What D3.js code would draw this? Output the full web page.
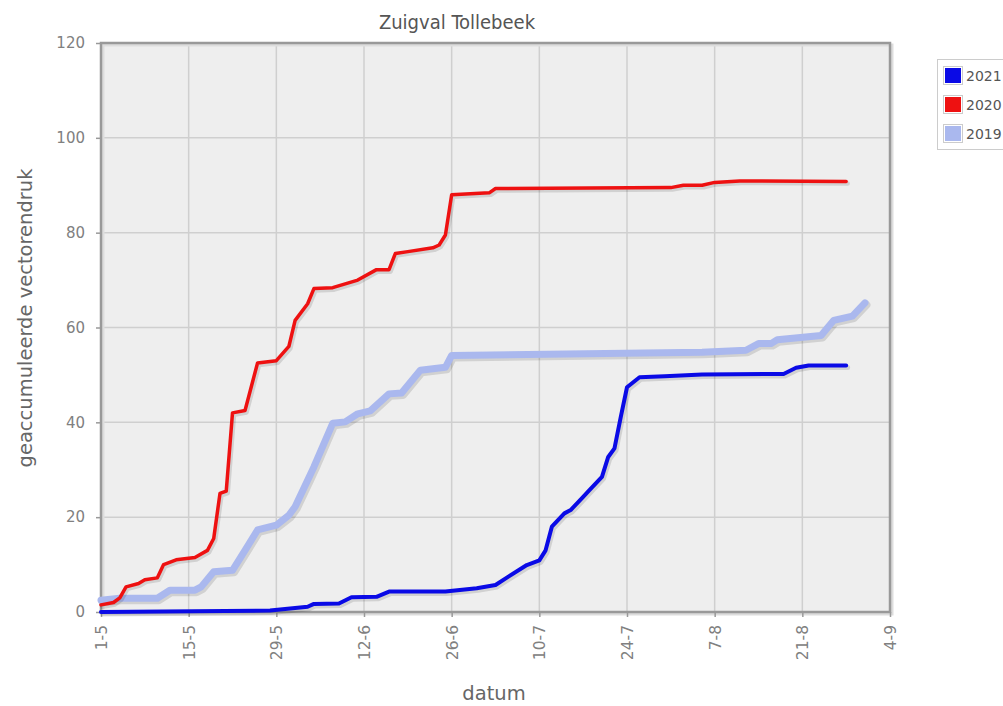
<!DOCTYPE html>
<html><head><meta charset="utf-8">
<script src="https://cdn.jsdelivr.net/npm/d3@7"></script>
<style>
body{margin:0;background:#fff;}
svg{display:block;}
</style></head>
<body>
<svg id="chart" width="1003" height="706"></svg>
<script>
const title = "Zuigval Tollebeek";
const yTitle = "geaccumuleerde vectorendruk";
const xTitle = "datum";
const xTickLabels = ["1-5","15-5","29-5","12-6","26-6","10-7","24-7","7-8","21-8","4-9"];
const yTicks = [0,20,40,60,80,100,120];
const seriesNames = ["2021","2020","2019"];
const seriesColors = ["#0a0ae6","#ee1111","#aab8ee"];

// [date (dd-mm), value]
const data2019 = [
 ["01-05",2.5],["04-05",2.9],["10-05",2.9],["12-05",4.6],["16-05",4.6],["17-05",5.3],
 ["19-05",8.5],["22-05",8.8],["24-05",13],["26-05",17.3],["29-05",18.3],["31-05",20.4],
 ["01-06",22.2],["03-06",27.8],["04-06",30.6],["07-06",39.8],["09-06",40.1],["11-06",41.8],
 ["13-06",42.4],["16-06",46],["18-06",46.2],["21-06",51],["25-06",51.6],["26-06",54.1],
 ["05-08",54.8],["12-08",55.2],["14-08",56.6],["16-08",56.6],["17-08",57.4],["24-08",58.3],
 ["26-08",61.5],["29-08",62.4],["31-08",65.2]
];
const data2020 = [
 ["01-05",1.5],["03-05",2],["04-05",3],["05-05",5.3],["07-05",6],["08-05",6.8],["10-05",7.2],
 ["11-05",10],["13-05",11],["16-05",11.5],["18-05",13],["19-05",15.5],["20-05",25],["21-05",25.5],
 ["22-05",42],["24-05",42.5],["26-05",52.5],["29-05",53],["31-05",56],["01-06",61.5],["03-06",65],
 ["04-06",68.2],["07-06",68.4],["11-06",70],["14-06",72.2],["16-06",72.2],["17-06",75.6],
 ["19-06",76],["23-06",76.8],["24-06",77.4],["25-06",79.5],["26-06",88],["02-07",88.4],
 ["03-07",89.3],["31-07",89.5],["02-08",90],["05-08",90],["07-08",90.6],["11-08",90.9],["28-08",90.8]
];
const data2021 = [
 ["01-05",0],["28-05",0.3],["03-06",1.1],["04-06",1.7],["08-06",1.8],["10-06",3.1],
 ["14-06",3.2],["16-06",4.3],["25-06",4.3],["30-06",5],["03-07",5.7],["05-07",7.4],
 ["08-07",9.9],["10-07",10.9],["11-07",13],["12-07",18],["14-07",20.8],["15-07",21.5],
 ["17-07",24.3],["18-07",25.7],["20-07",28.5],["21-07",32.7],["22-07",34.5],["23-07",41.1],
 ["24-07",47.4],["26-07",49.5],["30-07",49.7],["05-08",50.1],["18-08",50.2],["20-08",51.5],
 ["22-08",52],["28-08",52]
];

const parse = s => { const [d,m] = s.split("-").map(Number); return new Date(2021, m-1, d); };
const svg = d3.select("#chart");
const L = 101, R = 890, T = 43, B = 612;
const x = d3.scaleTime().domain([parse("01-05"), parse("04-09")]).range([L, R]);
const y = d3.scaleLinear().domain([0,120]).range([B, T]);
const tickDates = xTickLabels.map(t => parse(t));
const font = "Verdana, 'DejaVu Sans', sans-serif";

// plot background
svg.append("rect").attr("x",L).attr("y",T).attr("width",R-L).attr("height",B-T).attr("fill","#eeeeee");

// grid
svg.append("g").selectAll("line").data(yTicks.slice(1,-1)).join("line")
  .attr("x1",L).attr("x2",R).attr("y1",d=>y(d)).attr("y2",d=>y(d))
  .attr("stroke","#cfcfcf").attr("stroke-width",1.5);
svg.append("g").selectAll("line").data(tickDates.slice(1,-1)).join("line")
  .attr("x1",d=>x(d)).attr("x2",d=>x(d)).attr("y1",T).attr("y2",B)
  .attr("stroke","#cfcfcf").attr("stroke-width",1.5);

// frame shadow + frame
svg.append("rect").attr("x",L+2).attr("y",T+2).attr("width",R-L).attr("height",B-T)
  .attr("fill","none").attr("stroke","#dddddd").attr("stroke-width",3);
svg.append("rect").attr("x",L).attr("y",T).attr("width",R-L).attr("height",B-T)
  .attr("fill","none").attr("stroke","#999999").attr("stroke-width",2.5);

// axes
const yAxis = d3.axisLeft(y).tickValues(yTicks).tickSize(5).tickPadding(11);
const gy = svg.append("g").attr("transform",`translate(${L},0)`).call(yAxis);
gy.select(".domain").remove();
gy.selectAll(".tick line").attr("stroke","#999").attr("stroke-width",1.5);
gy.selectAll(".tick text").attr("fill","#808080").attr("font-size",15).attr("font-family",font);

const xAxis = d3.axisBottom(x).tickValues(tickDates).tickSize(5)
  .tickFormat((d,i)=>xTickLabels[i]);
const gx = svg.append("g").attr("transform",`translate(0,${B})`).call(xAxis);
gx.select(".domain").remove();
gx.selectAll(".tick line").attr("stroke","#999").attr("stroke-width",1.5);
gx.selectAll(".tick text").attr("fill","#808080").attr("font-size",15.5).attr("font-family",font)
  .attr("transform","rotate(-90)").attr("text-anchor","end").attr("dy","0.35em")
  .attr("x",-13).attr("y",0);

// lines
const line = d3.line().x(d=>x(parse(d[0]))).y(d=>y(d[1])).curve(d3.curveLinear);
const drawLine = (data, color, w) => {
  svg.append("path").datum(data).attr("d",line).attr("fill","none")
    .attr("stroke","rgba(0,0,0,0.12)").attr("stroke-width",w+1)
    .attr("transform","translate(1.5,2)").attr("stroke-linejoin","round").attr("stroke-linecap","round");
  svg.append("path").datum(data).attr("d",line).attr("fill","none")
    .attr("stroke",color).attr("stroke-width",w)
    .attr("stroke-linejoin","round").attr("stroke-linecap","round");
};
drawLine(data2019, seriesColors[2], 7);
drawLine(data2020, seriesColors[1], 3.5);
drawLine(data2021, seriesColors[0], 4);

// titles
svg.append("text").attr("x",457).attr("y",29).attr("text-anchor","middle")
  .attr("font-family","'Liberation Sans Narrow','DejaVu Sans Condensed',sans-serif")
  .attr("font-size",20).attr("fill","#555").text(title);
svg.append("text").attr("transform","translate(32,318) rotate(-90)").attr("text-anchor","middle")
  .attr("font-family","'DejaVu Sans',sans-serif").attr("font-size",19.5).attr("fill","#666").text(yTitle);
svg.append("text").attr("x",494).attr("y",700).attr("text-anchor","middle")
  .attr("font-family","'DejaVu Sans',sans-serif").attr("font-size",19.5).attr("fill","#666").text(xTitle);

// legend
const lg = svg.append("g");
lg.append("rect").attr("x",937.5).attr("y",59.5).attr("width",80).attr("height",90)
  .attr("fill","#fff").attr("stroke","#cccccc");
seriesNames.forEach((n,i)=>{
  const yy = 66 + i*29;
  lg.append("rect").attr("x",943.5).attr("y",yy+0.5).attr("width",19).attr("height",18)
    .attr("fill","#fff").attr("stroke","#cccccc");
  lg.append("rect").attr("x",945).attr("y",yy+2).attr("width",16).attr("height",15)
    .attr("fill",seriesColors[i]);
  lg.append("text").attr("x",966).attr("y",yy+14.5).attr("font-family",font)
    .attr("font-size",14).attr("fill","#555").text(n);
});
</script>
</body></html>
